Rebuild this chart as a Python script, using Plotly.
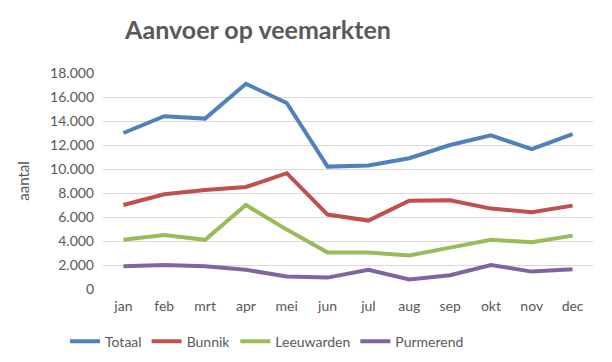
import plotly.graph_objects as go

months = ["jan", "feb", "mrt", "apr", "mei", "jun", "jul", "aug", "sep", "okt", "nov", "dec"]
totaal = [13000, 14400, 14200, 17100, 15500, 10200, 10300, 10900, 12000, 12800, 11650, 12900]
bunnik = [7000, 7900, 8250, 8500, 9650, 6200, 5700, 7350, 7400, 6700, 6400, 6950]
leeuwarden = [4100, 4500, 4100, 7000, 4950, 3050, 3050, 2800, 3450, 4100, 3900, 4450]
purmerend = [1900, 2000, 1900, 1600, 1050, 950, 1600, 800, 1150, 2000, 1450, 1650]

series = [
    ("Totaal", totaal, "#4F81BD"),
    ("Bunnik", bunnik, "#C0504D"),
    ("Leeuwarden", leeuwarden, "#9BBB59"),
    ("Purmerend", purmerend, "#8064A2"),
]

FONT = "Lato, 'Open Sans', sans-serif"
GREY = "#595959"

fig = go.Figure()
for name, vals, col in series:
    fig.add_trace(go.Scatter(x=months, y=vals, name=name, mode="lines",
                             line=dict(color=col, width=4)))

fig.update_layout(
    width=612, height=362,
    margin=dict(l=95, r=27, t=65, b=75),
    paper_bgcolor="white", plot_bgcolor="white",
    font=dict(family=FONT, size=14, color=GREY),
    title=dict(text="<b>Aanvoer op veemarkten</b>", x=250/612, xanchor="center",
               y=1 - 22/362, yanchor="middle",
               font=dict(family=FONT, size=25, color=GREY)),
    xaxis=dict(range=[-0.5, 11.5], showgrid=False, showline=False, ticks="",
               ticklabelstandoff=7,
               tickfont=dict(size=14, color=GREY)),
    yaxis=dict(range=[0, 18000], dtick=2000, tickformat=",d", showline=False,
               gridcolor="#D9D9D9", gridwidth=1, zeroline=False, ticks="",
               ticklabelstandoff=8,
               tickfont=dict(size=14, color=GREY),
               title=dict(text="aantal", font=dict(size=15, color=GREY), standoff=16)),
    separators=",.",
    legend=dict(orientation="h", x=(57 - 95) / 490, xanchor="left",
                y=-(341 - 287) / 222, yanchor="middle",
                font=dict(size=14, color=GREY), itemwidth=30),
    showlegend=True,
)

fig.write_html("out.html")
